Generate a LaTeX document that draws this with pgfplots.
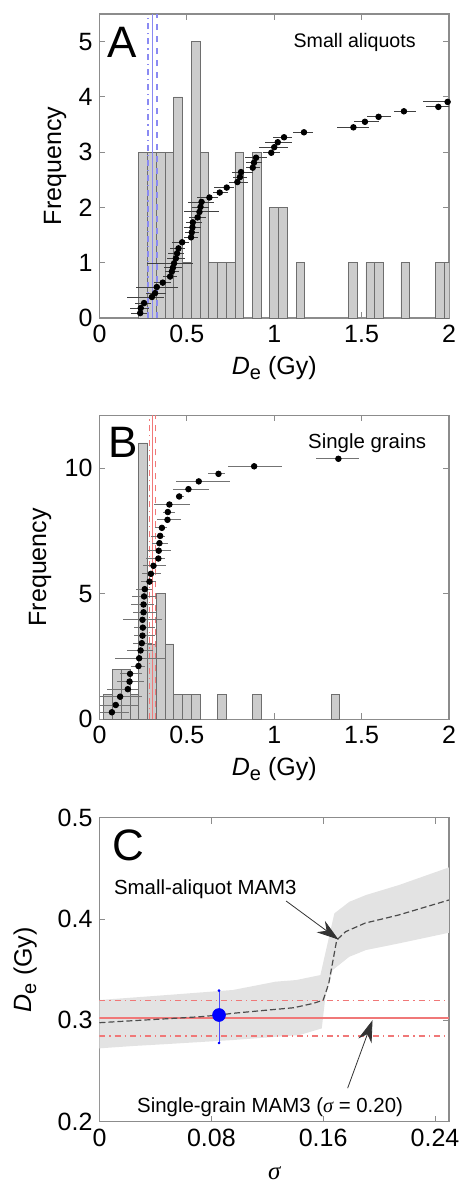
\documentclass[border=0pt]{standalone}
\usepackage{fontspec}
\setmainfont{Liberation Sans}
\newfontfamily\greekserif{Liberation Serif}
\usepackage{pgfplots}
\pgfplotsset{compat=1.18}
\usepackage{pgfplotstable}
\usetikzlibrary{arrows.meta}

\definecolor{barfill}{HTML}{CCCCCC}
\definecolor{baredge}{HTML}{6E6E6E}
\definecolor{axisgray}{HTML}{8C8C8C}
\definecolor{bandgray}{HTML}{E3E3E3}
\definecolor{linered}{HTML}{F07878}
\definecolor{lineblue}{HTML}{8A8AF2}

% small aliquots: De, rank, error minus, error plus
\pgfplotstableread{
x     y     em    ep
0.233 0.09  0.05  0.04
0.236 0.18  0.06  0.05
0.255 0.27  0.05  0.04
0.300 0.38  0.14  0.07
0.318 0.45  0.05  0.06
0.328 0.56  0.12  0.12
0.362 0.64  0.05  0.05
0.404 0.75  0.04  0.04
0.414 0.84  0.04  0.04
0.420 0.91  0.05  0.05
0.427 0.99  0.157 0.107
0.437 1.08  0.05  0.05
0.444 1.17  0.05  0.04
0.452 1.26  0.05  0.04
0.473 1.37  0.06  0.04
0.524 1.46  0.04  0.04
0.528 1.55  0.04  0.04
0.532 1.64  0.05  0.05
0.534 1.73  0.04  0.05
0.561 1.82  0.05  0.05
0.572 1.92  0.09  0.11
0.578 2.01  0.05  0.05
0.584 2.10  0.08  0.07
0.629 2.18  0.07  0.05
0.688 2.27  0.04  0.05
0.728 2.36  0.07  0.04
0.789 2.46  0.05  0.06
0.804 2.55  0.04  0.04
0.810 2.64  0.054 0.07
0.877 2.72  0.04  0.04
0.884 2.81  0.044 0.046
0.896 2.90  0.063 0.061
0.983 2.99  0.046 0.05
1.000 3.09  0.085 0.08
1.020 3.18  0.073 0.08
1.056 3.27  0.061 0.044
1.170 3.36  0.061 0.053
1.453 3.45  0.092 0.091
1.519 3.55  0.063 0.078
1.597 3.64  0.065 0.069
1.742 3.74  0.057 0.068
1.939 3.82  0.069 0.10
1.992 3.91  0.142 0.10
}\aliquots

% single grains: De, rank, error minus, error plus
\pgfplotstableread{
x     y     em    ep
0.071 0.28  0.067 0.10
0.093 0.57  0.089 0.13
0.118 0.90  0.114 0.123
0.162 1.20  0.12  0.06
0.172 1.50  0.07  0.08
0.175 1.81  0.06  0.07
0.223 2.12  0.04  0.04
0.227 2.43  0.14  0.15
0.235 2.74  0.08  0.07
0.242 3.03  0.05  0.06
0.246 3.33  0.05  0.07
0.248 3.65  0.05  0.07
0.246 3.96  0.11  0.11
0.252 4.26  0.06  0.07
0.252 4.57  0.07  0.06
0.255 4.89  0.07  0.07
0.259 5.18  0.05  0.04
0.286 5.48  0.05  0.04
0.294 5.79  0.05  0.06
0.309 6.11  0.06  0.07
0.337 6.40  0.07  0.04
0.339 6.71  0.06  0.07
0.343 7.01  0.04  0.05
0.347 7.30  0.05  0.03
0.357 7.62  0.04  0.03
0.389 7.94  0.06  0.08
0.391 8.25  0.03  0.04
0.400 8.55  0.09  0.12
0.456 8.87  0.02  0.03
0.509 9.16  0.09  0.12
0.568 9.47  0.13  0.18
0.681 9.77  0.06  0.04
0.885 10.07 0.15  0.16
1.367 10.37 0.13  0.12
}\grains

\pgfplotsset{
  panel/.style={
    width=174.75pt, height=152pt, scale only axis,
    axis line style={axisgray, line width=0.6pt},
    tick style={axisgray, line width=0.5pt},
    tick align=inside, tick pos=both, major tick length=3pt,
    ticklabel style={font=\fontsize{12.5}{14}\selectfont, text=black},
    label style={font=\fontsize{12.5}{14}\selectfont},
    /pgf/number format/assume math mode=true,
  },
  hist/.style={ybar, bar width=0.05, bar shift=0pt, fill=barfill,
    draw=baredge, line width=0.4pt},
  pts/.style={only marks, mark=*, mark size=1.4pt, black,
    error bars/.cd, x dir=both, x explicit, error mark=none,
    error bar style={#1, line width=0.4pt}},
  pts/.default={black!75},
}

\begin{document}
\begin{tikzpicture}
% ---------- A ----------
\begin{axis}[panel, at={(0,0)}, anchor=south west,
  xmin=0, xmax=2, ymin=0, ymax=5.5,
  xtick={0,0.5,1,1.5,2}, xticklabels={0,0.5,1,1.5,2},
  ytick={0,1,2,3,4,5}, yticklabels={0,1,2,3,4,5},
  xlabel={\textit{D}\raisebox{-0.35ex}{\fontsize{10}{10}\selectfont e} (Gy)},
  ylabel={Frequency},
  xlabel style={at={(axis description cs:0.5,-0.165)}, anchor=center},
  ylabel style={at={(axis description cs:-0.127,0.5)}, anchor=center},
]
\addplot[hist] coordinates {(0.25,3) (0.30,3) (0.35,3) (0.40,3) (0.45,4)
  (0.50,1) (0.55,5) (0.60,3) (0.65,1) (0.70,1) (0.75,1) (0.80,3) (0.90,3)
  (1.00,2) (1.05,2) (1.15,1) (1.45,1) (1.55,1) (1.60,1) (1.75,1) (1.95,1)
  (2.00,1)};
\addplot[lineblue, line width=0.6pt, dash dot] coordinates {(0.278,0) (0.278,5.5)};
\addplot[lineblue, line width=0.9pt] coordinates {(0.303,0) (0.303,5.5)};
\addplot[lineblue, line width=0.6pt, dashed] coordinates {(0.329,0) (0.329,5.5)};
\addplot[pts] table[x=x, y=y, x error minus=em, x error plus=ep] {\aliquots};
\node[font=\fontsize{22}{22}\selectfont] at (rel axis cs:0.064,0.908) {A};
\node[font=\fontsize{9.8}{11}\selectfont] at (rel axis cs:0.73,0.905) {Small aliquots};
\end{axis}

% ---------- B ----------
\begin{axis}[panel, at={(0,-200.65pt)}, anchor=south west,
  xmin=0, xmax=2, ymin=0, ymax=12.1,
  xtick={0,0.5,1,1.5,2}, xticklabels={0,0.5,1,1.5,2},
  ytick={0,5,10}, yticklabels={0,5,10},
  xlabel={\textit{D}\raisebox{-0.35ex}{\fontsize{10}{10}\selectfont e} (Gy)},
  ylabel={Frequency},
  xlabel style={at={(axis description cs:0.5,-0.165)}, anchor=center},
  ylabel style={at={(axis description cs:-0.17,0.5)}, anchor=center},
]
\addplot[hist] coordinates {(0.05,1) (0.10,2) (0.15,2) (0.20,1) (0.25,11)
  (0.30,3) (0.35,5) (0.40,3) (0.45,1) (0.50,1) (0.55,1) (0.70,1) (0.90,1)
  (1.35,1)};
\addplot[linered, line width=0.6pt, dash dot] coordinates {(0.285,0) (0.285,12.1)};
\addplot[linered, line width=0.9pt] coordinates {(0.303,0) (0.303,12.1)};
\addplot[linered, line width=0.6pt, dashed] coordinates {(0.320,0) (0.320,12.1)};
\addplot[pts=black!55] table[x=x, y=y, x error minus=em, x error plus=ep] {\grains};
\node[font=\fontsize{22}{22}\selectfont] at (rel axis cs:0.069,0.911) {B};
\node[font=\fontsize{10.2}{11}\selectfont] at (rel axis cs:0.766,0.908) {Single grains};
\end{axis}

% ---------- C ----------
\begin{axis}[panel, at={(0,-401.85pt)}, anchor=south west,
  xmin=0, xmax=0.25, ymin=0.2, ymax=0.5,
  xtick={0,0.08,0.16,0.24}, xticklabels={0,0.08,0.16,0.24},
  ytick={0.2,0.3,0.4,0.5}, yticklabels={0.2,0.3,0.4,0.5},
  xlabel={{\greekserif\itshape σ}},
  ylabel={\textit{D}\raisebox{-0.35ex}{\fontsize{10}{10}\selectfont e} (Gy)},
  xlabel style={at={(axis description cs:0.5,-0.168)}, anchor=center},
  ylabel style={at={(axis description cs:-0.213,0.5)}, anchor=center},
]
\addplot[fill=bandgray, draw=none] coordinates {
  (0,0.3201) (0.048,0.325) (0.0955,0.330) (0.126,0.3382) (0.1407,0.3398)
  (0.158,0.3447) (0.168,0.4056) (0.1787,0.417) (0.1906,0.4237)
  (0.2143,0.4336) (0.25,0.451)
  (0.25,0.3865) (0.2143,0.376) (0.1906,0.3694) (0.1787,0.3628)
  (0.1668,0.3497) (0.1616,0.3234) (0.159,0.2921) (0.143,0.2855)
  (0.0955,0.2806) (0.048,0.2766) (0.024,0.2747) (0,0.2724)} \closedcycle;
\addplot[linered, line width=0.6pt, dash dot] coordinates {(0,0.3197) (0.25,0.3197)};
\addplot[color=linered, line width=0.8pt, solid] coordinates {(0,0.3026) (0.25,0.3026)};
\addplot[linered, line width=0.6pt, dash dot] coordinates {(0,0.2845) (0.25,0.2845)};
\addplot[black!70, line width=0.6pt, dash pattern=on 3pt off 1.5pt] coordinates {
  (0,0.2977) (0.024,0.2997) (0.048,0.3016) (0.072,0.3036) (0.0855,0.3053)
  (0.0955,0.307) (0.119,0.310) (0.139,0.3125) (0.153,0.3168) (0.160,0.320)
  (0.164,0.3365) (0.1697,0.3793) (0.176,0.3875) (0.190,0.396)
  (0.214,0.404) (0.25,0.4188)};
\addplot[only marks, mark=*, blue, mark size=3.2pt,
  error bars/.cd, y dir=both, y explicit, error mark=*,
  error mark options={blue, mark size=0.45pt},
  error bar style={blue!70, line width=0.5pt}]
  coordinates {(0.0855,0.3053) += (0,0.0241) -= (0,0.0276)};
\draw[black!80, line width=0.4pt, -{Stealth[length=11pt, width=7pt]}]
  (axis cs:0.1335,0.4178) -- (axis cs:0.171,0.3797);
\draw[black!80, line width=0.4pt, -{Stealth[length=11pt, width=7pt]}]
  (axis cs:0.1775,0.2331) -- (axis cs:0.1953,0.3002);
\node[font=\fontsize{10.2}{11}\selectfont] at (axis cs:0.0757,0.4297) {Small-aliquot MAM3};
\node[font=\fontsize{10.2}{11}\selectfont] at (axis cs:0.122,0.2139)
  {Single-grain MAM3 ({\greekserif\itshape σ} = 0.20)};
\node[font=\fontsize{22}{22}\selectfont] at (rel axis cs:0.0815,0.91) {C};
\end{axis}

\pgfresetboundingbox
\path (-49.75pt,159pt) rectangle (179.75pt,-433.5pt);
\end{tikzpicture}
\end{document}
